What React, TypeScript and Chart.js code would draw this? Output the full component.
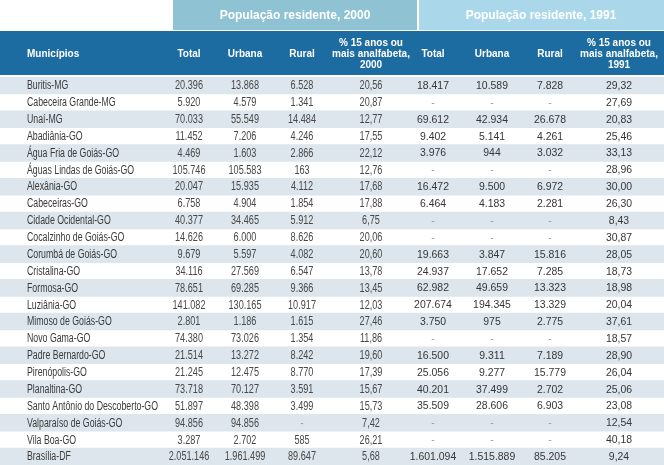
import React, { useEffect, useRef } from "react";
import { Chart, registerables } from "chart.js";
Chart.register(...registerables);

const municipios = [
  "Buritis-MG", "Cabeceira Grande-MG", "Unaí-MG", "Abadiânia-GO", "Água Fria de Goiás-GO",
  "Águas Lindas de Goiás-GO", "Alexânia-GO", "Cabeceiras-GO", "Cidade Ocidental-GO",
  "Cocalzinho de Goiás-GO", "Corumbá de Goiás-GO", "Cristalina-GO", "Formosa-GO", "Luziânia-GO",
  "Mimoso de Goiás-GO", "Novo Gama-GO", "Padre Bernardo-GO", "Pirenópolis-GO", "Planaltina-GO",
  "Santo Antônio do Descoberto-GO", "Valparaíso de Goiás-GO", "Vila Boa-GO", "Brasília-DF",
];
const total2000 = [20396, 5920, 70033, 11452, 4469, 105746, 20047, 6758, 40377, 14626, 9679, 34116, 78651, 141082, 2801, 74380, 21514, 21245, 73718, 51897, 94856, 3287, 2051146];
const urbana2000 = [13868, 4579, 55549, 7206, 1603, 105583, 15935, 4904, 34465, 6000, 5597, 27569, 69285, 130165, 1186, 73026, 13272, 12475, 70127, 48398, 94856, 2702, 1961499];
const rural2000 = [6528, 1341, 14484, 4246, 2866, 163, 4112, 1854, 5912, 8626, 4082, 6547, 9366, 10917, 1615, 1354, 8242, 8770, 3591, 3499, null, 585, 89647];
const analf2000 = [20.56, 20.87, 12.77, 17.55, 22.12, 12.76, 17.68, 17.88, 6.75, 20.06, 20.6, 13.78, 13.45, 12.03, 27.46, 11.86, 19.6, 17.39, 15.67, 15.73, 7.42, 26.21, 5.68];
const total1991 = [18417, null, 69612, 9402, 3976, null, 16472, 6464, null, null, 19663, 24937, 62982, 207674, 3750, null, 16500, 25056, 40201, 35509, null, null, 1601094];
const urbana1991 = [10589, null, 42934, 5141, 944, null, 9500, 4183, null, null, 3847, 17652, 49659, 194345, 975, null, 9311, 9277, 37499, 28606, null, null, 1515889];
const rural1991 = [7828, null, 26678, 4261, 3032, null, 6972, 2281, null, null, 15816, 7285, 13323, 13329, 2775, null, 7189, 15779, 2702, 6903, null, null, 85205];
const analf1991 = [29.32, 27.69, 20.83, 25.46, 33.13, 28.96, 30.0, 26.3, 8.43, 30.87, 28.05, 18.73, 18.98, 20.04, 37.61, 18.57, 28.9, 26.04, 25.06, 23.08, 12.54, 40.18, 9.24];

const groupTitles = ["População residente, 2000", "População residente, 1991"];
const colHeaders = [
  ["Municípios"], ["Total"], ["Urbana"], ["Rural"], ["% 15 anos ou", "mais analfabeta,", "2000"],
  ["Total"], ["Urbana"], ["Rural"], ["% 15 anos ou", "mais analfabeta,", "1991"],
];

// layout (pixel units of the hidden x scale, 0..664)
const colX = [27, 189, 245, 302, 371, 433, 492, 550, 619];

const fmtInt = (v: number | null) => {
  if (v === null || v === undefined) return "-";
  return String(v).replace(/\B(?=(\d{3})+(?!\d))/g, ".");
};
const fmtPct = (v: number) => v.toFixed(2).replace(".", ",");

const SANS = '"Liberation Sans", Arial, sans-serif';

function drawText(ctx: CanvasRenderingContext2D, t: string, x: number, y: number, align: CanvasTextAlign, sx: number) {
  ctx.save();
  ctx.translate(x, y);
  ctx.scale(sx, 1);
  ctx.textAlign = align;
  ctx.fillText(t, 0, 0);
  ctx.restore();
}

const tablePlugin = {
  id: "tablePlugin",
  beforeDatasetsDraw(chart: any) {
    const ctx = chart.ctx;
    const xs = chart.scales.x;
    const px = (v: number) => xs.getPixelForValue(v);
    ctx.save();
    ctx.fillStyle = "#8fc2d3";
    ctx.fillRect(px(173), 0, px(417) - px(173), 30);
    ctx.fillStyle = "#aad8ea";
    ctx.fillRect(px(419), 0, px(664) - px(419), 30);
    ctx.fillStyle = "#ffffff";
    ctx.font = `bold 12px ${SANS}`;
    ctx.textAlign = "center";
    ctx.textBaseline = "middle";
    ctx.fillText(groupTitles[0], px(295), 16);
    ctx.fillText(groupTitles[1], px(541), 16);
    ctx.fillStyle = "#1c6ca1";
    ctx.fillRect(px(0), 31, px(664) - px(0), 44);
    ctx.fillStyle = "#ffffff";
    ctx.font = `bold 10px ${SANS}`;
    colHeaders.forEach((lines, c) => {
      ctx.textAlign = c === 0 ? "left" : "center";
      const n = lines.length;
      lines.forEach((t, k) => {
        const y = 54 + (k - (n - 1) / 2) * 11;
        ctx.fillText(t, px(colX[c]), y);
      });
    });
    ctx.restore();
  },
  afterDatasetsDraw(chart: any) {
    const ctx = chart.ctx;
    const xs = chart.scales.x;
    const ys = chart.scales.y;
    ctx.save();
    ctx.textBaseline = "middle";
    municipios.forEach((name, i) => {
      const y = ys.getPixelForValue(i) + 0.5;
      ctx.font = `12px ${SANS}`;
      ctx.fillStyle = "#3a3a3a";
      drawText(ctx, name, xs.getPixelForValue(colX[0]), y, "left", 0.73);
      const left = [fmtInt(total2000[i]), fmtInt(urbana2000[i]), fmtInt(rural2000[i]), fmtPct(analf2000[i])];
      left.forEach((t, k) => {
        ctx.fillStyle = t === "-" ? "#9a9a9a" : "#484848";
        drawText(ctx, t, xs.getPixelForValue(colX[k + 1]), y, "center", 0.76);
      });
      ctx.font = `11px ${SANS}`;
      const right = [fmtInt(total1991[i]), fmtInt(urbana1991[i]), fmtInt(rural1991[i]), fmtPct(analf1991[i])];
      right.forEach((t, k) => {
        ctx.fillStyle = t === "-" ? "#9a9a9a" : "#363636";
        drawText(ctx, t, xs.getPixelForValue(colX[k + 5]), y, "center", 0.95);
      });
    });
    ctx.restore();
  },
};

export default function App() {
  const ref = useRef<HTMLCanvasElement | null>(null);
  useEffect(() => {
    document.body.style.margin = "0";
    const canvas = ref.current;
    if (!canvas) return;
    const chart = new Chart(canvas, {
      type: "bar",
      data: {
        labels: municipios,
        datasets: [
          {
            data: municipios.map((_, i) => (i % 2 === 0 ? 664 : null)),
            backgroundColor: "#dde6ed",
            borderWidth: 0,
            barPercentage: 1,
            categoryPercentage: 1,
          },
        ],
      },
      options: {
        indexAxis: "y",
        animation: false,
        responsive: false,
        maintainAspectRatio: false,
        layout: { padding: { top: 77, left: 0, right: 0, bottom: 0 } },
        scales: {
          x: { type: "linear", min: 0, max: 664, display: false },
          y: { type: "category", display: false, offset: true, grid: { display: false } },
        },
        plugins: { legend: { display: false }, tooltip: { enabled: false } },
      },
      plugins: [tablePlugin],
    } as any);
    return () => chart.destroy();
  }, []);
  return (
    <div style={{ width: 664, height: 465 }}>
      <canvas ref={ref} width={664} height={465} style={{ display: "block" }} />
    </div>
  );
}
